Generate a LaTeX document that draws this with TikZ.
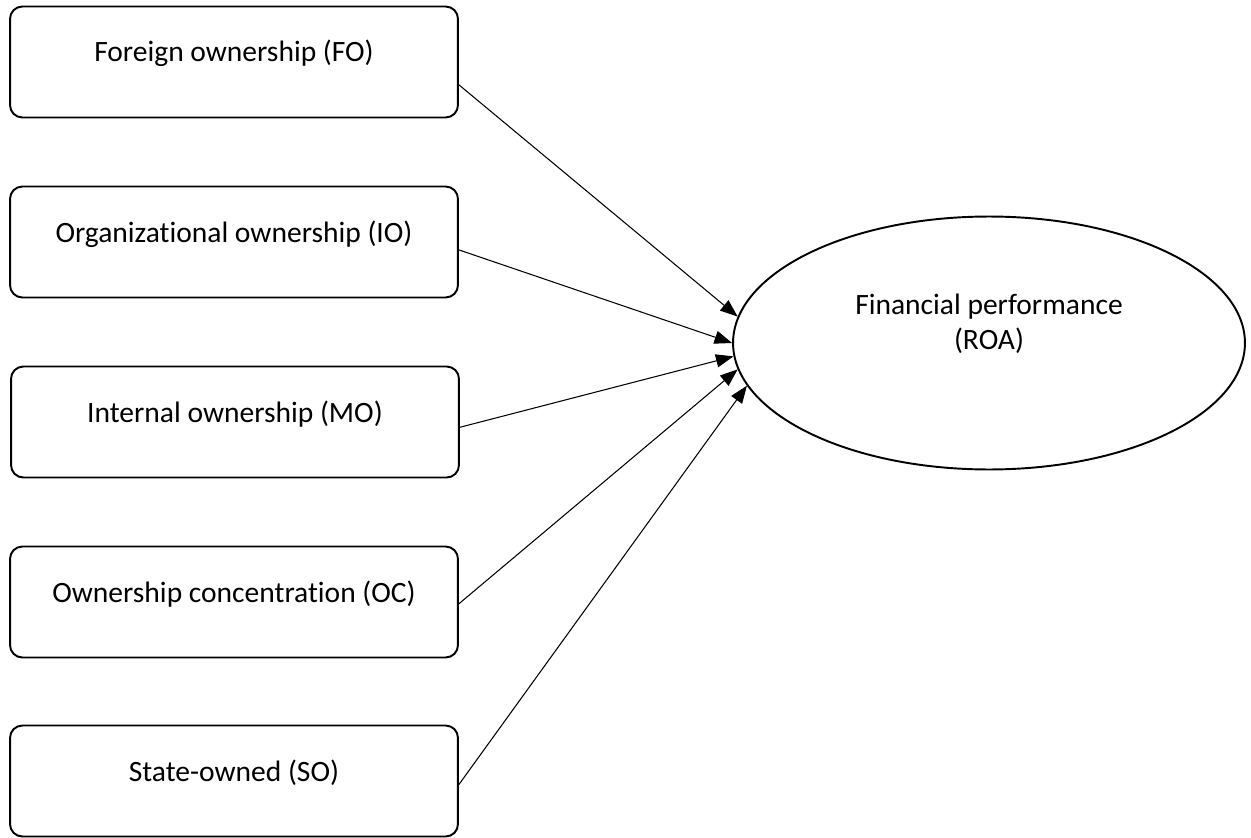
\documentclass[tikz,border=0pt]{standalone}
\usepackage{fontspec}
\setmainfont{Carlito}[Ligatures=NoCommon]
\usetikzlibrary{shapes.geometric,arrows.meta}

\tikzset{
  factor/.style={draw, line width=1.1pt, rounded corners=7pt,
    minimum width=8.96cm, minimum height=2.22cm,
    text height=12pt, text depth=12pt, font=\fontsize{16.8}{20}\selectfont},
  outcome/.style={draw, ellipse, line width=1.1pt, inner sep=0pt,
    minimum width=10.24cm, minimum height=5.06cm, align=center,
    font=\fontsize{16.8}{20}\selectfont},
  link/.style={-{Triangle[length=10pt,width=7.5pt]}, line width=0.6pt}
}

\begin{document}
\begin{tikzpicture}[x=0.02cm, y=-0.02cm]
    \useasboundingbox (0,0) rectangle (1251,838);
    \node[factor] (fo) at (234,62) {Foreign ownership (FO)};
    \node[factor] (io) at (234,242) {Organizational ownership (IO)};
    \node[factor] (mo) at (235,422) {Internal ownership (MO)};
    \node[factor] (oc) at (234,602) {Ownership concentration (OC)};
    \node[factor] (so) at (234,781) {State-owned (SO)};
    \node[outcome] (roa) at (989,343) {Financial performance\\(ROA)\\[4pt]};
    \draw[link] ([yshift=-13pt]fo.east) -- (roa.174);
    \draw[link] ([yshift=-4.5pt]io.east) -- (roa.180);
    \draw[link] ([yshift=-3pt]mo.east) -- (roa.183);
    \draw[link] ([yshift=-1pt]oc.east) -- (roa.186);
    \draw[link] ([yshift=-2pt]so.east) -- (roa.190);
\end{tikzpicture}
\end{document}
